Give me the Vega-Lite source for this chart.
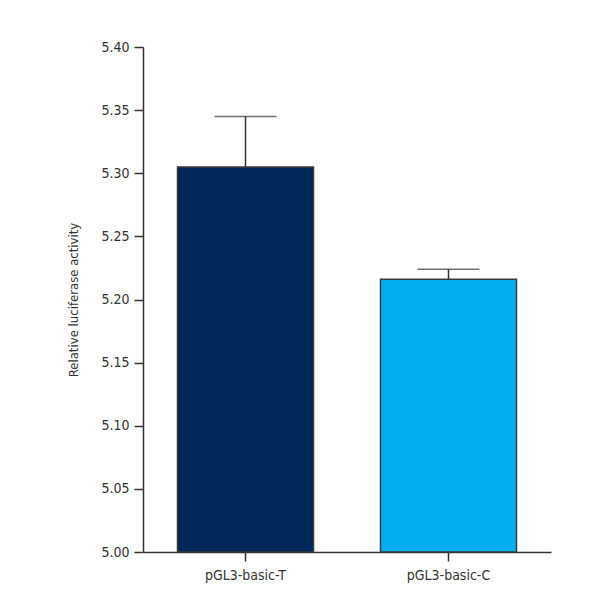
{
  "$schema": "https://vega.github.io/schema/vega-lite/v6.json",
  "autosize": "none",
  "width": 408,
  "height": 505,
  "padding": {"left": 143, "top": 47, "right": 46, "bottom": 59},
  "background": "white",
  "config": {
    "view": {"stroke": null},
    "font": "DejaVu Sans Condensed, Roboto, sans-serif",
    "axis": {
      "domainColor": "#333333",
      "domainWidth": 1.5,
      "tickColor": "#333333",
      "tickWidth": 1.5,
      "tickSize": 9,
      "labelColor": "#333333",
      "labelFont": "DejaVu Sans Condensed, Roboto, sans-serif",
      "labelFontSize": 14,
      "titleFont": "DejaVu Sans Condensed, Roboto, sans-serif",
      "titleFontSize": 13,
      "titleFontWeight": "normal",
      "titleColor": "#333333",
      "grid": false
    }
  },
  "data": {
    "values": [
      {"group": "pGL3-basic-T", "value": 5.305, "upper": 5.345},
      {"group": "pGL3-basic-C", "value": 5.216, "upper": 5.224}
    ]
  },
  "encoding": {
    "x": {
      "field": "group",
      "type": "nominal",
      "sort": null,
      "scale": {"paddingInner": 0.33, "paddingOuter": 0.17},
      "axis": {"title": null, "labelAngle": 0, "labelPadding": 7}
    }
  },
  "layer": [
    {
      "mark": {"type": "bar", "stroke": "#3a3a3a", "strokeWidth": 1.5},
      "encoding": {
        "y": {
          "field": "value",
          "type": "quantitative",
          "scale": {"domain": [5.0, 5.4], "zero": false, "nice": false},
          "axis": {
            "title": "Relative luciferase activity",
            "values": [5.0, 5.05, 5.1, 5.15, 5.2, 5.25, 5.3, 5.35, 5.4],
            "format": ".2f",
            "labelPadding": 5,
            "titlePadding": 20
          }
        },
        "y2": {"datum": 5.0},
        "color": {
          "field": "group",
          "type": "nominal",
          "scale": {"domain": ["pGL3-basic-T", "pGL3-basic-C"], "range": ["#00295a", "#00aeef"]},
          "legend": null
        }
      }
    },
    {
      "mark": {"type": "rule", "color": "#333333", "strokeWidth": 1.5},
      "encoding": {
        "y": {"field": "value", "type": "quantitative"},
        "y2": {"field": "upper"}
      }
    },
    {
      "mark": {"type": "tick", "color": "#333333", "size": 62, "thickness": 1.5, "orient": "horizontal"},
      "encoding": {
        "y": {"field": "upper", "type": "quantitative"}
      }
    }
  ]
}
